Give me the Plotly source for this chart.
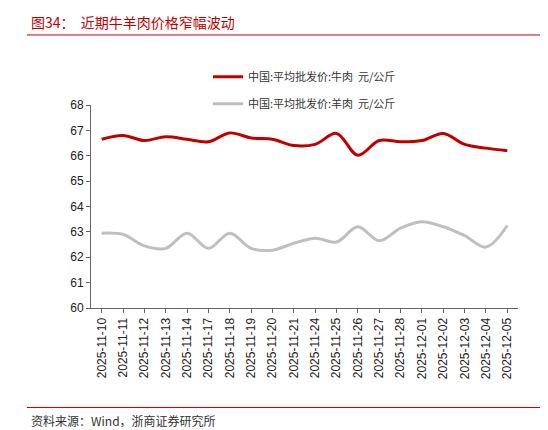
import plotly.graph_objects as go

dates = ["2025-11-10", "2025-11-11", "2025-11-12", "2025-11-13", "2025-11-14",
         "2025-11-17", "2025-11-18", "2025-11-19", "2025-11-20", "2025-11-21",
         "2025-11-24", "2025-11-25", "2025-11-26", "2025-11-27", "2025-11-28",
         "2025-12-01", "2025-12-02", "2025-12-03", "2025-12-04", "2025-12-05"]
beef = [66.65, 66.8, 66.6, 66.75, 66.65, 66.55, 66.9, 66.7, 66.65, 66.4,
        66.45, 66.88, 66.02, 66.6, 66.55, 66.6, 66.88, 66.45, 66.3, 66.2]
mutton = [62.95, 62.9, 62.45, 62.35, 62.95, 62.35, 62.95, 62.35, 62.28, 62.55,
          62.75, 62.6, 63.2, 62.65, 63.15, 63.4, 63.2, 62.85, 62.4, 63.25]

fig = go.Figure()
fig.add_trace(go.Scatter(x=dates, y=beef, mode="lines", line_shape="spline",
                         line=dict(color="#C00000", width=3), legendgroup="a",
                         name="中国:平均批发价:牛肉  元/公斤"))
fig.add_trace(go.Scatter(x=dates, y=mutton, mode="lines", line_shape="spline",
                         line=dict(color="#BFBFBF", width=3), legendgroup="b",
                         name="中国:平均批发价:羊肉  元/公斤"))

font = "Noto Sans CJK SC"
fig.update_layout(
    width=548, height=430, plot_bgcolor="white", paper_bgcolor="white",
    margin=dict(l=83, r=38, t=97, b=130),
    font=dict(family=font, size=12, color="#333"),
    legend=dict(x=0.5, xanchor="center", y=1.21, yanchor="top",
                font=dict(size=11), tracegroupgap=8, bgcolor="rgba(0,0,0,0)"),
    xaxis=dict(type="category", range=[-0.5, 19.5], tickangle=-90, showline=True,
               linecolor="#666", ticks="outside", ticklen=4, tickcolor="#666",
               showgrid=False,
               tickfont=dict(family="Liberation Sans", size=12, color="#222")),
    yaxis=dict(range=[60, 68], dtick=1, showline=True, linecolor="#666",
               ticks="outside", ticklen=4, tickcolor="#666", showgrid=False,
               zeroline=False,
               tickfont=dict(family="Liberation Sans", size=12, color="#222")),
    shapes=[
        dict(type="line", xref="paper", yref="paper", x0=-0.15, x1=1.07,
             y0=1.345, y1=1.345, line=dict(color="#C00000", width=1)),
        dict(type="line", xref="paper", yref="paper", x0=-0.15, x1=1.07,
             y0=-0.49, y1=-0.49, line=dict(color="#C00000", width=1)),
    ],
    annotations=[
        dict(text="图34：  近期牛羊肉价格窄幅波动", xref="paper", yref="paper",
             x=-0.145, y=1.35, xanchor="left", yanchor="bottom", showarrow=False,
             font=dict(family=font, size=14, color="#C00000")),
        dict(text="资料来源：Wind，浙商证券研究所", xref="paper", yref="paper",
             x=-0.145, y=-0.5, xanchor="left", yanchor="top", showarrow=False,
             font=dict(family=font, size=12, color="#333")),
    ],
)
fig.write_html("out.html")
